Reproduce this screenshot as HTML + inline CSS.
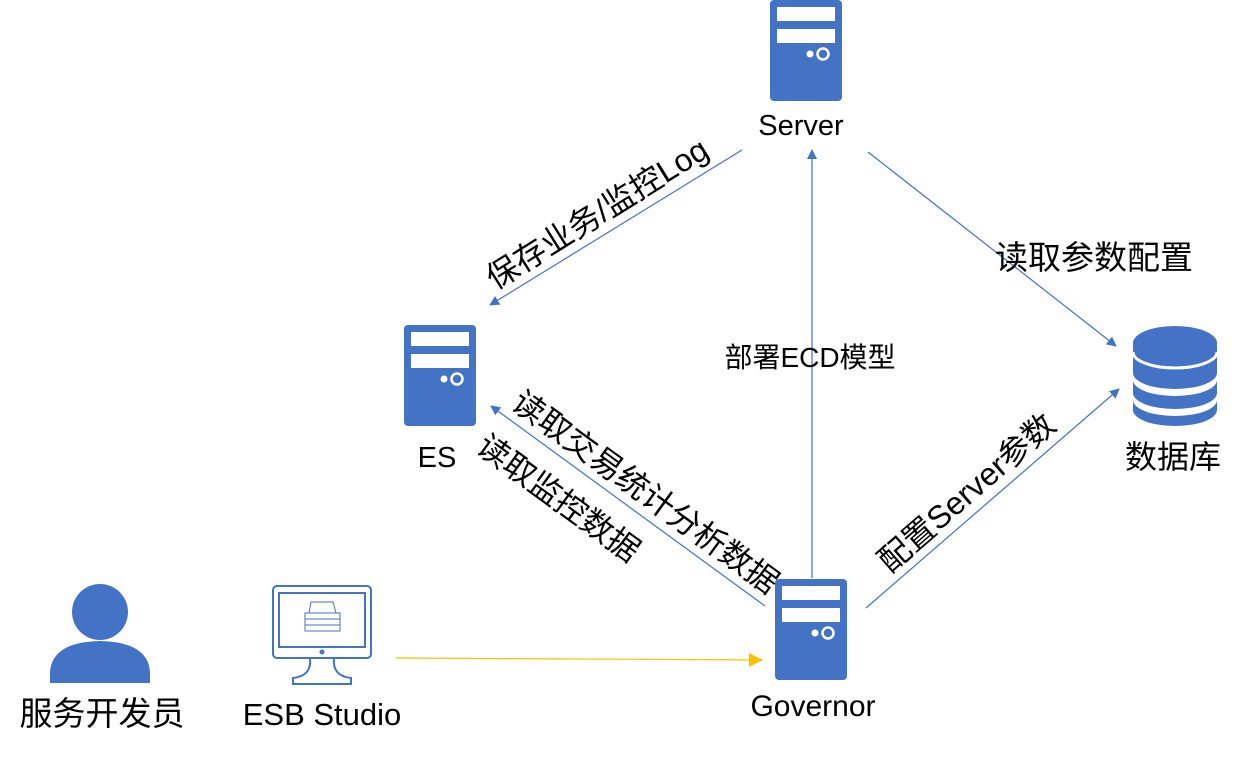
<!DOCTYPE html>
<html><head><meta charset="utf-8"><style>
html,body{margin:0;padding:0;background:#fff;}
svg text{font-family:"Liberation Sans","Noto Sans CJK SC",sans-serif;fill:#000;}
</style></head><body>
<svg width="1244" height="753" viewBox="0 0 1244 753" xmlns="http://www.w3.org/2000/svg">
<defs>
<marker id="ab" markerWidth="10" markerHeight="10" refX="9" refY="5" orient="auto" markerUnits="userSpaceOnUse"><path d="M0,0 L10,5 L0,10 z" fill="#4472c4"/></marker>
<marker id="ao" markerWidth="14" markerHeight="14" refX="13" refY="7" orient="auto" markerUnits="userSpaceOnUse"><path d="M0,0 L14,7 L0,14 z" fill="#ffc000"/></marker>
<g id="srv">
<rect x="0" y="0" width="72" height="101" rx="4" fill="#4472c4"/>
<rect x="7" y="7" width="58" height="14" fill="#fff"/>
<rect x="7" y="29" width="58" height="14" fill="#fff"/>
<circle cx="40" cy="54" r="3.5" fill="#fff"/>
<circle cx="53" cy="54" r="5.5" fill="none" stroke="#fff" stroke-width="2.5"/>
</g>
</defs>

<line x1="742" y1="150" x2="490" y2="305" stroke="#4472c4" stroke-width="1.2" marker-end="url(#ab)"/>
<line x1="868" y1="152" x2="1116" y2="346" stroke="#4472c4" stroke-width="1.2" marker-end="url(#ab)"/>
<line x1="812" y1="578" x2="812" y2="150" stroke="#4472c4" stroke-width="1.2" marker-end="url(#ab)"/>
<line x1="765" y1="606" x2="491" y2="406" stroke="#4472c4" stroke-width="1.2" marker-end="url(#ab)"/>
<line x1="866" y1="608" x2="1119" y2="389" stroke="#4472c4" stroke-width="1.2" marker-end="url(#ab)"/>
<line x1="396" y1="658" x2="762" y2="660" stroke="#ffc000" stroke-width="1.2" marker-end="url(#ao)"/>

<use href="#srv" x="770" y="0"/>
<use href="#srv" x="404" y="325"/>
<use href="#srv" x="775" y="579"/>

<g fill="#4472c4">
<path d="M1133,400 L1133,410 A42,16 0 0 0 1217,410 L1217,400 A42,16 0 0 1 1133,400 z"/>
<path d="M1133,380 L1133,393 A42,16 0 0 0 1217,393 L1217,380 A42,16 0 0 1 1133,380 z"/>
<path d="M1133,345 L1133,373 A42,16 0 0 0 1217,373 L1217,345 z"/>
<ellipse cx="1175" cy="343" rx="42" ry="17"/>
</g>
<path d="M1133,352 A42,16 0 0 0 1217,352" fill="none" stroke="#fff" stroke-width="3"/>

<circle cx="100" cy="612" r="28" fill="#4472c4"/>
<path d="M50,683 L50,672 Q52,642 100,641 Q148,642 150,672 L150,683 z" fill="#4472c4"/>

<g fill="none" stroke="#4472c4" stroke-width="2">
<rect x="273" y="586" width="98" height="72" rx="4"/>
<rect x="279" y="593" width="86" height="54"/>
<path d="M310,658 Q312,676 293,678 L293,684 L351,684 L351,678 Q332,676 334,658"/>
</g>
<circle cx="322" cy="652" r="2.5" fill="#4472c4"/>
<g fill="none" stroke="#4472c4" stroke-width="1">
<path d="M309,613 L311,602 L333,602 L336,613 z"/>
<rect x="305" y="613" width="35" height="6"/>
<rect x="305" y="619" width="35" height="6"/>
<rect x="305" y="625" width="35" height="6"/>
</g>

<text x="801" y="135" font-size="29" text-anchor="middle">Server</text>
<text x="437" y="467" font-size="29" text-anchor="middle">ES</text>
<text x="813" y="716" font-size="30" text-anchor="middle">Governor</text>
<text x="1173" y="468" font-size="32" text-anchor="middle">数据库</text>
<text x="322" y="725" font-size="31" text-anchor="middle">ESB Studio</text>
<text x="102" y="725" font-size="33" text-anchor="middle">服务开发员</text>

<text x="1094" y="269" font-size="33" text-anchor="middle">读取参数配置</text>
<text x="810" y="367" font-size="28" text-anchor="middle">部署ECD模型</text>
<text transform="translate(603,223) rotate(-32)" font-size="32" text-anchor="middle">保存业务/监控Log</text>
<text transform="translate(639,501) rotate(36)" font-size="32" text-anchor="middle">读取交易统计分析数据</text>
<text transform="translate(552,507) rotate(36)" font-size="32" text-anchor="middle">读取监控数据</text>
<text transform="translate(974,501) rotate(-41)" font-size="32" text-anchor="middle">配置Server参数</text>
</svg>
</body></html>
